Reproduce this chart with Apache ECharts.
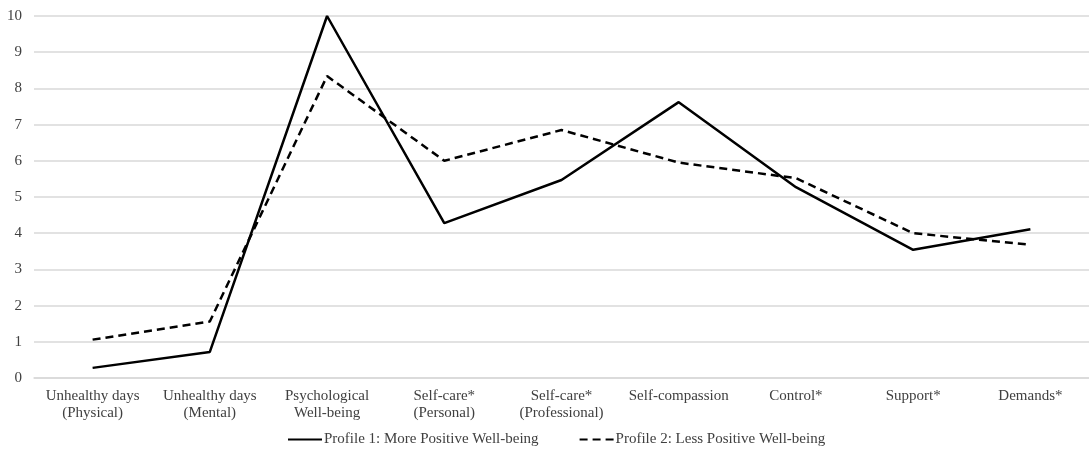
<!DOCTYPE html>
<html>
<head>
<meta charset="utf-8">
<script src="https://cdn.jsdelivr.net/npm/echarts@6/dist/echarts.min.js"></script>
<style>
  html, body { margin: 0; padding: 0; background: #fff; }
  #chart { width: 1089px; height: 452px; }
</style>
</head>
<body>
<div id="chart"></div>
<script>
var categories = [
    'Unhealthy days\n(Physical)',
    'Unhealthy days\n(Mental)',
    'Psychological\nWell-being',
    'Self-care*\n(Personal)',
    'Self-care*\n(Professional)',
    'Self-compassion',
    'Control*',
    'Support*',
    'Demands*'
];
var profile1 = [0.28, 0.72, 10.0, 4.28, 5.47, 7.62, 5.27, 3.54, 4.11];
var profile2 = [1.06, 1.56, 8.34, 6.0, 6.85, 5.95, 5.52, 4.0, 3.68];
var yTicks = [0, 1, 2, 3, 4, 5, 6, 7, 8, 9, 10];

var font = '"Liberation Serif", "Times New Roman", serif';
var chart = echarts.init(document.getElementById('chart'));

chart.setOption({
    animation: false,
    textStyle: { fontFamily: font },
    grid: {
        left: 34,
        right: 0,
        top: 16,
        bottom: 74
    },
    legend: {
        bottom: 0,
        left: 282,
        itemWidth: 34,
        itemHeight: 10,
        itemGap: 40,
        itemStyle: { opacity: 0 },
        textStyle: { fontFamily: font, fontSize: 15, color: '#404040', padding: [0, 0, 0, -3] },
        data: ['Profile 1: More Positive Well-being', 'Profile 2: Less Positive Well-being']
    },
    xAxis: {
        type: 'category',
        data: categories,
        boundaryGap: true,
        axisLine: { lineStyle: { color: '#d9d9d9', width: 1.5 } },
        axisTick: { show: false },
        axisLabel: {
            fontFamily: font,
            fontSize: 15,
            color: '#404040',
            lineHeight: 17,
            margin: 10,
            interval: 0
        }
    },
    yAxis: {
        type: 'value',
        min: yTicks[0],
        max: yTicks[yTicks.length - 1],
        interval: 1,
        axisLine: { show: false },
        axisTick: { show: false },
        splitLine: { lineStyle: { color: '#d9d9d9', width: 1.5 } },
        axisLabel: {
            fontFamily: font,
            fontSize: 15,
            color: '#404040',
            margin: 12
        }
    },
    series: [
        {
            name: 'Profile 1: More Positive Well-being',
            type: 'line',
            data: profile1,
            symbol: 'none',
            lineStyle: { color: '#000', width: 2.5, type: 'solid' },
            itemStyle: { color: '#000' }
        },
        {
            name: 'Profile 2: Less Positive Well-being',
            type: 'line',
            data: profile2,
            symbol: 'none',
            lineStyle: { color: '#000', width: 2.5, type: [8, 5] },
            itemStyle: { color: '#000' }
        }
    ]
});
</script>
</body>
</html>
